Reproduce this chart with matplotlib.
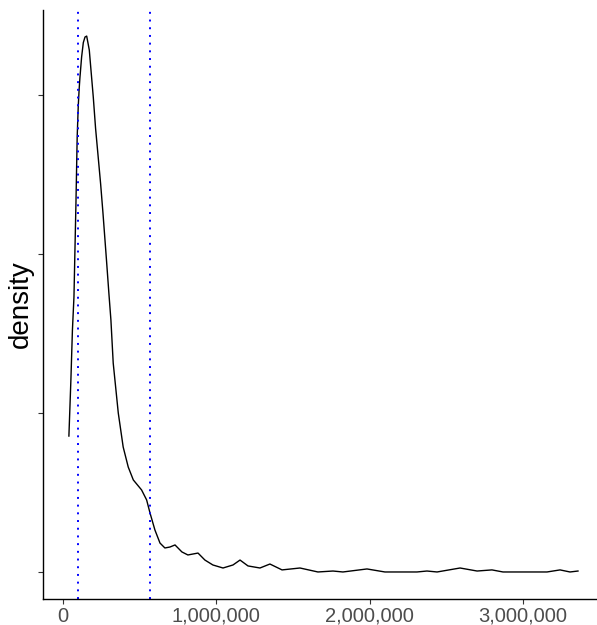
import matplotlib
matplotlib.use("Agg")
import matplotlib.pyplot as plt
import numpy as np
from matplotlib.ticker import FuncFormatter

plt.rcParams["font.family"] = ["Liberation Sans", "DejaVu Sans"]

# density curve (x in units, y in 1e-6 units)
x_vals = [39000, 52000, 62000, 72000, 78000, 85000, 89000, 93000, 100000,
          106000, 111000, 122000, 133000, 144000, 155000, 172000, 183000,
          198000, 213000, 230000, 246000, 261000, 285000, 300000, 313000,
          328000, 361000, 393000, 426000, 459000, 513000, 546000, 568000,
          600000, 633000, 665000, 698000, 731000, 776000, 815000, 881000,
          926000, 978000, 1044000, 1109000, 1155000, 1207000, 1285000,
          1350000, 1429000, 1546000, 1663000, 1761000, 1826000, 1983000,
          2100000, 2309000, 2374000, 2440000, 2590000, 2701000, 2798000,
          2870000, 3157000, 3242000, 3307000, 3359000]
y_vals = [0.855, 1.208, 1.522, 1.730, 2.006, 2.321, 2.528, 2.736, 2.930,
          3.040, 3.110, 3.240, 3.330, 3.365, 3.371, 3.283, 3.157,
          2.987, 2.790, 2.610, 2.440, 2.260, 1.950, 1.750, 1.585,
          1.314, 1.000, 0.786, 0.660, 0.579, 0.516, 0.453, 0.371,
          0.264, 0.182, 0.151, 0.157, 0.170, 0.126, 0.107, 0.119,
          0.075, 0.044, 0.025, 0.044, 0.075, 0.038, 0.025,
          0.050, 0.013, 0.025, 0.0, 0.006, 0.0, 0.019,
          0.0, 0.0, 0.006, 0.0, 0.025, 0.006, 0.013,
          0.0, 0.0, 0.013, 0.0, 0.006]

vlines = [96000, 565000]
x_ticks = [0, 1000000, 2000000, 3000000]
y_ticks = [0, 1, 2, 3]

fig = plt.figure(figsize=(5.97, 6.25), dpi=100)
ax = fig.add_axes([0.072, 0.0416, 0.928, 0.9424])

ax.plot(x_vals, y_vals, color="black", lw=1.0, solid_joinstyle="round")
for v in vlines:
    ax.axvline(v, color="#0000FF", lw=1.4, linestyle=(0, (1, 2.96)))

ax.set_xlim(-130000, 3483000)
ax.set_ylim(-0.17, 3.535)

ax.set_xticks(x_ticks)
ax.xaxis.set_major_formatter(FuncFormatter(lambda v, p: f"{int(v):,}"))
ax.set_yticks(y_ticks)
ax.set_yticklabels([])

for s in ["top", "right"]:
    ax.spines[s].set_visible(False)
for s in ["left", "bottom"]:
    ax.spines[s].set_linewidth(1.0)

ax.tick_params(axis="both", length=3.5, width=0.8, color="#333333",
               labelsize=14.5, labelcolor="#4D4D4D", pad=2)

ax.set_ylabel("density", fontsize=20)
ax.yaxis.set_label_coords(-0.016, 0.5)

fig.savefig("out.png", dpi=100)
